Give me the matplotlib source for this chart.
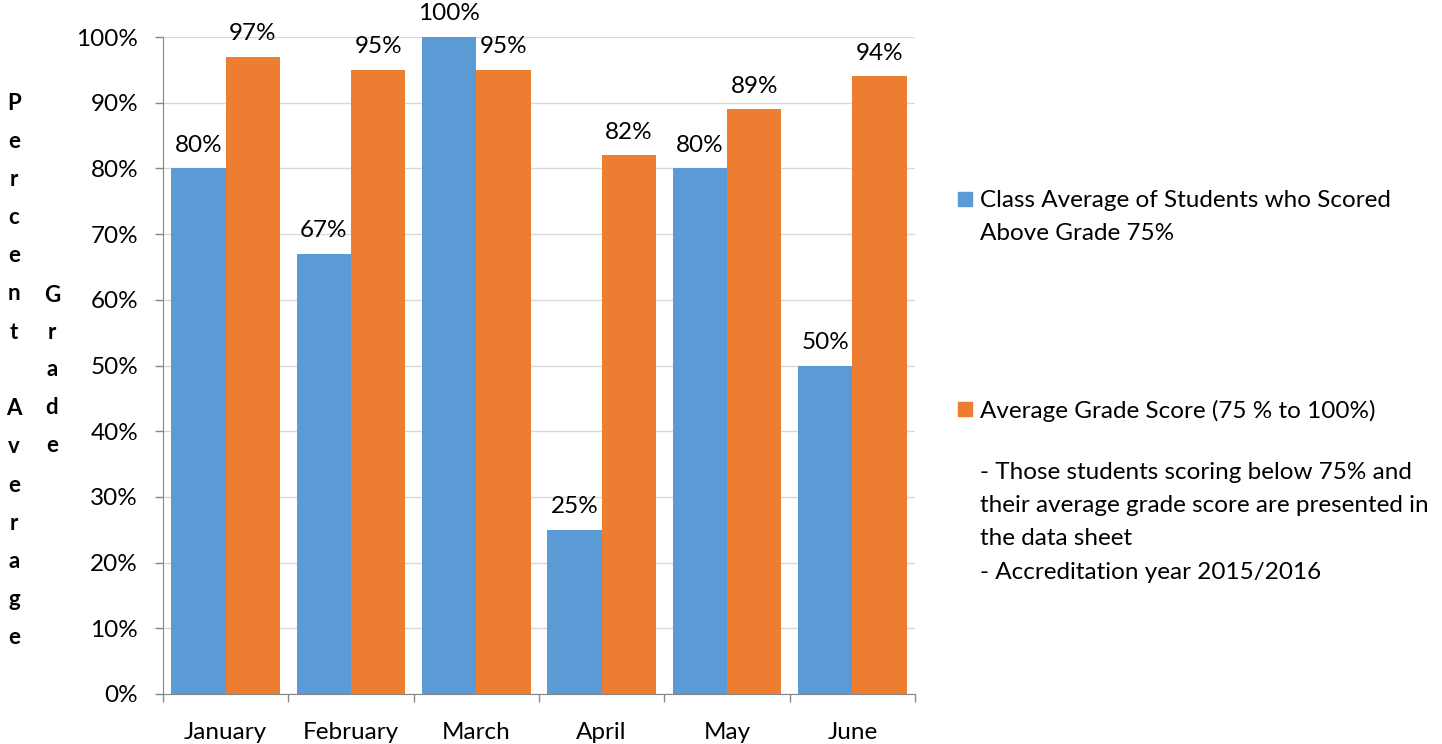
import numpy as np
import matplotlib
matplotlib.use("Agg")
import matplotlib.pyplot as plt
from matplotlib.ticker import MultipleLocator, PercentFormatter

plt.rcParams['font.family'] = ['Lato', 'DejaVu Sans']

months = ["January", "February", "March", "April", "May", "June"]
class_avg = [80, 67, 100, 25, 80, 50]
grade_avg = [97, 95, 95, 82, 89, 94]
series_names = ["Class Average of Students who Scored\nAbove Grade 75%",
                "Average Grade Score (75 % to 100%)"]
note = ("- Those students scoring below 75% and\n"
        "their average grade score are presented in\n"
        "the data sheet\n"
        "- Accreditation year 2015/2016")

blue = "#5B9BD5"
orange = "#ED7D31"
fs = 17.5

fig = plt.figure(figsize=(14.42, 7.44), dpi=100)
ax = fig.add_axes([163/1442, 1 - 694/744, (915 - 163)/1442, (694 - 37)/744])

x = np.arange(len(months))
w = 0.433
b1 = ax.bar(x - w/2, class_avg, w, color=blue, label=series_names[0], zorder=2)
b2 = ax.bar(x + w/2, grade_avg, w, color=orange, label=series_names[1], zorder=2)

for bars, vals in [(b1, class_avg), (b2, grade_avg)]:
    for r, v in zip(bars, vals):
        ax.annotate(f"{v}%", (r.get_x() + r.get_width()/2, v),
                    xytext=(0, 9), textcoords="offset points",
                    ha="center", va="bottom", fontsize=fs, clip_on=False)

ax.set_xlim(-0.5, len(months) - 0.5)
ax.set_ylim(0, 100)
ax.yaxis.set_major_locator(MultipleLocator(10))
ax.yaxis.set_major_formatter(PercentFormatter(decimals=0))
ax.grid(axis="y", color="#D9D9D9", linewidth=1, zorder=0)
ax.set_axisbelow(True)

ax.set_xticks(x)
ax.set_xticklabels(months)
ax.set_xticks(np.arange(len(months) + 1) - 0.5, minor=True)
ax.tick_params(axis="x", which="major", length=0, pad=20, labelsize=fs)
ax.tick_params(axis="x", which="minor", length=6, color="#868686", width=1)
ax.tick_params(axis="y", length=6, color="#868686", width=1, pad=12, labelsize=fs)

for s in ["top", "right"]:
    ax.spines[s].set_visible(False)
for s in ["left", "bottom"]:
    ax.spines[s].set_color("#868686")

# y label written as stacked letters
col1 = list("Percent") + [""] + list("Average")
for i, ch in enumerate(col1):
    fig.text(14/1442, 1 - (103 + i*38.2)/744, ch, ha="center", va="center",
             fontsize=16, fontweight="bold")
for i, ch in enumerate("Grade"):
    fig.text(52/1442, 1 - (295 + i*37.5)/744, ch, ha="center", va="center",
             fontsize=16, fontweight="bold")

# legend
for name, col, ytop in [(series_names[0], blue, 199), (series_names[1], orange, 409)]:
    fig.patches.append(plt.Rectangle((958/1442, 1 - (ytop + 7)/744), 14/1442, 14/744,
                                     transform=fig.transFigure, color=col))
    fig.text(980/1442, 1 - (ytop - 9)/744, name, ha="left", va="top",
             fontsize=fs, linespacing=1.68)
fig.text(980/1442, 1 - 462/744, note, ha="left", va="top", fontsize=fs, linespacing=1.72)

fig.savefig("out.png", dpi=100)
